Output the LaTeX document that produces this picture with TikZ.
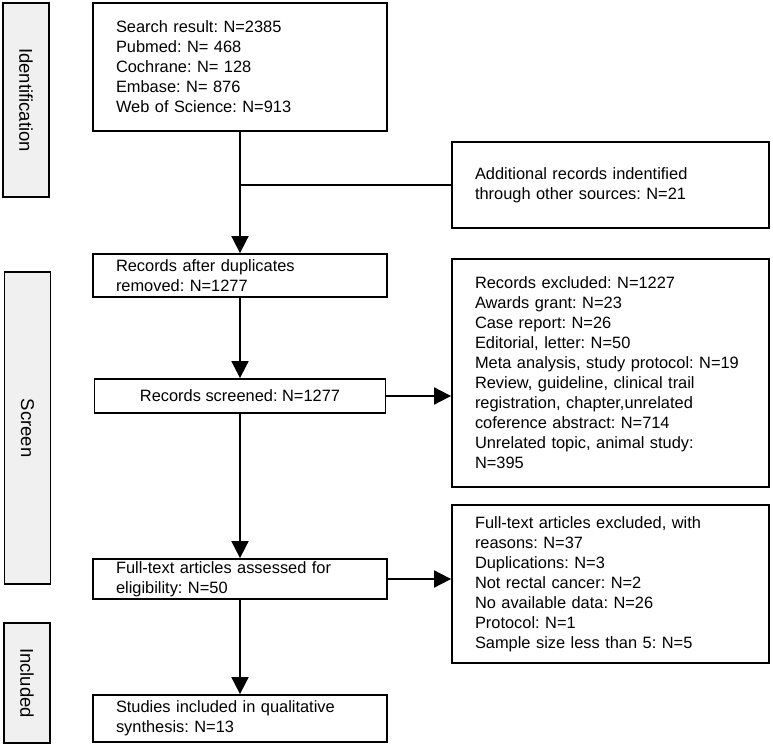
\documentclass[tikz,border=0pt]{standalone}
\usepackage{fontspec}
\setmainfont{Liberation Sans}
\usetikzlibrary{arrows.meta}
\frenchspacing

\begin{document}
\begin{tikzpicture}[x=1pt,y=-1pt,
    txt/.style={font=\fontsize{16.4}{20}\selectfont},
    box/.style={txt,draw,line width=1.8pt,inner ysep=0pt,align=left},
    leftbox/.style={box,minimum width=294pt,text width=248pt,inner xsep=23pt},
    rightbox/.style={box,minimum width=317pt,text width=271pt,inner xsep=23pt},
    sidebox/.style={draw,font=\fontsize{18.5}{22}\selectfont,line width=1.8pt,fill=gray!12,rotate=-90,minimum height=46pt},
    arrow/.style={line width=1.8pt,-{Triangle[length=17pt,width=17pt]}}]
				\useasboundingbox (0,0) rectangle (773,746);
				\coordinate (S) at (240,67);
				\coordinate (D) at (240,275.5);
				\coordinate (R) at (240,396);
				\coordinate (F) at (240,579);
				\coordinate (I) at (240,718.5);
				\coordinate (A) at (610.5,185);
				\coordinate (E) at (610.5,373);
				\coordinate (X) at (610.5,584);
				\node[sidebox,minimum width=194pt] (idside) at (26,100) {Identification};
				\node[sidebox,minimum width=312pt] (scrside) at (27.5,428) {Screen};
				\node[sidebox,minimum width=120pt] (incside) at (27,683) {Included};
				\node[leftbox,minimum height=128pt] (search) at (S) {Search result: N=2385\\Pubmed: N= 468\\Cochrane: N= 128\\Embase: N= 876\\Web of Science: N=913};
				\node[rightbox,minimum height=86pt] (addl) at (A) {Additional records indentified\\through other sources: N=21};
				\node[leftbox,minimum height=43pt] (dup) at (D) {Records after duplicates\\removed: N=1277};
				\node[box,minimum width=291pt,minimum height=34pt,inner xsep=0pt] (scr) at (R) {Records screened: N=1277};
				\node[rightbox,minimum height=228pt] (excl) at (E) {Records excluded: N=1227\\Awards grant: N=23\\Case report: N=26\\Editorial, letter: N=50\\Meta analysis, study protocol: N=19\\Review, guideline, clinical trail\\registration, chapter,unrelated\\coference abstract: N=714\\Unrelated topic, animal study:\\N=395};
				\node[leftbox,minimum height=40pt] (full) at (F) {Full-text articles assessed for\\eligibility: N=50};
				\node[rightbox,minimum height=158pt] (exfull) at (X) {Full-text articles excluded, with\\reasons: N=37\\Duplications: N=3\\Not rectal cancer: N=2\\No available data: N=26\\Protocol: N=1\\Sample size less than 5: N=5};
				\node[leftbox,minimum height=47pt] (incl) at (I) {Studies included in qualitative\\synthesis: N=13};
				\draw[arrow] (search.south) -- (dup.north);
				\draw[line width=1.8pt] (addl.west) -- (addl.west -| search.south);
				\draw[arrow] (dup.south) -- (scr.north);
				\draw[arrow] (scr.south) -- (full.north);
				\draw[arrow] (full.south) -- (incl.north);
				\draw[arrow] (scr.east) -- (scr.east -| excl.west);
				\draw[arrow] (full.east) -- (full.east -| exfull.west);
			\end{tikzpicture}
\end{document}
